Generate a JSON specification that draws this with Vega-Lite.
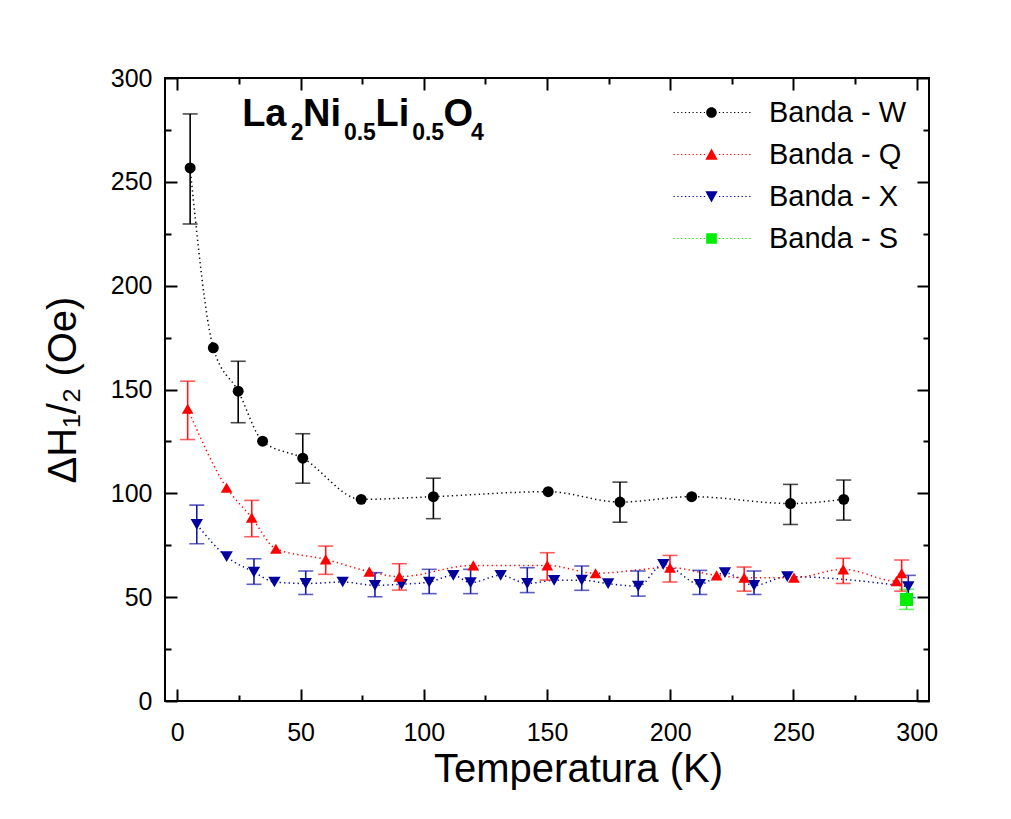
{
  "$schema": "https://vega.github.io/schema/vega-lite/v6.json",
  "width": 764,
  "height": 623,
  "autosize": {"type": "none"},
  "padding": {"left": 165, "top": 78, "right": 82, "bottom": 118},
  "background": "white",
  "config": {
    "view": {"stroke": "black", "strokeWidth": 2},
    "font": "Liberation Sans",
    "axis": {"grid": false, "domain": false, "tickColor": "black", "tickWidth": 2, "labelColor": "black", "titleColor": "black", "labelFont": "Liberation Sans", "titleFont": "Liberation Sans", "labelFlush": false, "labelOverlap": false}
  },
  "datasets": {
    "pts": [
      {"s": "Banda - W", "T": 5.2, "H": 256.7, "lo": 229.7, "hi": 282.7},
      {"s": "Banda - W", "T": 14.6, "H": 170.1},
      {"s": "Banda - W", "T": 24.7, "H": 149.2, "lo": 134.0, "hi": 163.6},
      {"s": "Banda - W", "T": 34.6, "H": 125.1},
      {"s": "Banda - W", "T": 50.9, "H": 116.9, "lo": 104.9, "hi": 128.7},
      {"s": "Banda - W", "T": 74.6, "H": 97.1},
      {"s": "Banda - W", "T": 103.9, "H": 98.4, "lo": 87.8, "hi": 107.3},
      {"s": "Banda - W", "T": 150.5, "H": 100.8},
      {"s": "Banda - W", "T": 179.6, "H": 95.8, "lo": 86.1, "hi": 105.4},
      {"s": "Banda - W", "T": 208.7, "H": 98.4},
      {"s": "Banda - W", "T": 248.8, "H": 95.1, "lo": 85.0, "hi": 104.3},
      {"s": "Banda - W", "T": 270.4, "H": 97.1, "lo": 87.1, "hi": 106.4},
      {"s": "Banda - X", "T": 7.9, "H": 85.0, "lo": 75.7, "hi": 94.3},
      {"s": "Banda - X", "T": 20.0, "H": 69.5},
      {"s": "Banda - X", "T": 31.1, "H": 62.1, "lo": 56.2, "hi": 68.5},
      {"s": "Banda - X", "T": 39.4, "H": 57.3},
      {"s": "Banda - X", "T": 52.1, "H": 56.6, "lo": 51.3, "hi": 62.6},
      {"s": "Banda - X", "T": 67.1, "H": 57.3},
      {"s": "Banda - X", "T": 80.2, "H": 55.7, "lo": 50.2, "hi": 61.8},
      {"s": "Banda - X", "T": 91.0, "H": 56.2},
      {"s": "Banda - X", "T": 102.2, "H": 57.3, "lo": 51.7, "hi": 63.4},
      {"s": "Banda - X", "T": 112.0, "H": 60.5},
      {"s": "Banda - X", "T": 119.0, "H": 57.0, "lo": 51.7, "hi": 63.4},
      {"s": "Banda - X", "T": 131.2, "H": 60.5},
      {"s": "Banda - X", "T": 142.0, "H": 56.6, "lo": 52.2, "hi": 64.2},
      {"s": "Banda - X", "T": 152.9, "H": 58.1},
      {"s": "Banda - X", "T": 164.1, "H": 58.2, "lo": 53.3, "hi": 65.0},
      {"s": "Banda - X", "T": 174.8, "H": 56.5},
      {"s": "Banda - X", "T": 187.0, "H": 55.3, "lo": 50.5, "hi": 62.6},
      {"s": "Banda - X", "T": 197.2, "H": 65.8},
      {"s": "Banda - X", "T": 212.0, "H": 56.2, "lo": 51.3, "hi": 62.9},
      {"s": "Banda - X", "T": 222.2, "H": 61.8},
      {"s": "Banda - X", "T": 234.0, "H": 55.7, "lo": 51.3, "hi": 62.6},
      {"s": "Banda - X", "T": 247.5, "H": 59.9},
      {"s": "Banda - X", "T": 296.6, "H": 55.1, "lo": 49.8, "hi": 60.5},
      {"s": "Banda - Q", "T": 4.2, "H": 140.7, "lo": 125.9, "hi": 154.0},
      {"s": "Banda - Q", "T": 20.0, "H": 102.7},
      {"s": "Banda - Q", "T": 30.2, "H": 88.3, "lo": 79.1, "hi": 96.6},
      {"s": "Banda - Q", "T": 40.0, "H": 73.3},
      {"s": "Banda - Q", "T": 60.2, "H": 68.2, "lo": 61.0, "hi": 74.6},
      {"s": "Banda - Q", "T": 77.9, "H": 62.3},
      {"s": "Banda - Q", "T": 90.1, "H": 59.9, "lo": 53.4, "hi": 66.1},
      {"s": "Banda - Q", "T": 120.1, "H": 65.3},
      {"s": "Banda - Q", "T": 150.1, "H": 65.3, "lo": 58.2, "hi": 71.4},
      {"s": "Banda - Q", "T": 169.7, "H": 61.5},
      {"s": "Banda - Q", "T": 199.9, "H": 64.2, "lo": 57.3, "hi": 70.1},
      {"s": "Banda - Q", "T": 218.8, "H": 60.5},
      {"s": "Banda - Q", "T": 230.0, "H": 59.4, "lo": 52.9, "hi": 64.5},
      {"s": "Banda - Q", "T": 250.2, "H": 59.4},
      {"s": "Banda - Q", "T": 270.2, "H": 63.4, "lo": 56.6, "hi": 68.7},
      {"s": "Banda - Q", "T": 291.8, "H": 57.7},
      {"s": "Banda - Q", "T": 293.9, "H": 61.5, "lo": 52.9, "hi": 67.9},
      {"s": "Banda - S", "T": 295.9, "H": 48.9, "lo": 44.1, "hi": 53.8}
    ],
    "formula": [
      {"seg": "La", "T": 26.3, "H": 276.7, "k": "m"},
      {"seg": "2", "T": 46.0, "H": 270.0, "k": "s"},
      {"seg": "Ni", "T": 51.0, "H": 276.7, "k": "m"},
      {"seg": "0.5", "T": 67.6, "H": 270.0, "k": "s"},
      {"seg": "Li", "T": 80.4, "H": 276.7, "k": "m"},
      {"seg": "0.5", "T": 95.3, "H": 270.0, "k": "s"},
      {"seg": "O", "T": 108.0, "H": 276.7, "k": "m"},
      {"seg": "4", "T": 119.2, "H": 270.0, "k": "s"}
    ]
  },
  "layer": [
    {
      "data": {"name": "pts"},
      "mark": {"type": "line", "interpolate": "monotone", "strokeDash": [1.3, 3.2], "strokeWidth": 1.5},
      "encoding": {
        "x": {"field": "T", "type": "quantitative", "scale": {"domain": [-5, 305], "nice": false, "zero": false},
          "axis": {"orient": "bottom", "values": [0, 50, 100, 150, 200, 250, 300], "tickSize": -12, "labelFontSize": 25, "labelPadding": 31, "title": "Temperatura (K)", "titleFontSize": 40, "titleFontWeight": "normal", "titlePadding": 4, "titleX": 413}},
        "y": {"field": "H", "type": "quantitative", "scale": {"domain": [0, 300], "nice": false},
          "axis": {"orient": "left", "values": [0, 50, 100, 150, 200, 250, 300], "tickSize": -12, "labelFontSize": 25, "labelPadding": 25, "title": "ΔH₁/₂ (Oe)", "titleFontSize": 40, "titleFontWeight": "normal", "titlePadding": 27}},
        "color": {"field": "s", "type": "nominal", "scale": {"domain": ["Banda - W", "Banda - Q", "Banda - X", "Banda - S"], "range": ["#000000", "#ff0000", "#00009c", "#00ee00"]}, "legend": null}
      }
    },
    {
      "data": {"name": "pts"},
      "transform": [{"filter": "isValid(datum.lo)"}],
      "mark": {"type": "errorbar", "thickness": 1.6, "ticks": {"size": 15, "thickness": 1.6}},
      "encoding": {
        "x": {"field": "T", "type": "quantitative", "axis": null},
        "y": {"field": "lo", "type": "quantitative", "axis": null},
        "y2": {"field": "hi"},
        "color": {"field": "s", "type": "nominal", "scale": {"domain": ["Banda - W", "Banda - Q", "Banda - X", "Banda - S"], "range": ["#000000", "#ff1a1a", "#1a1aaa", "#22ee22"]}, "legend": null}
      }
    },
    {
      "data": {"name": "pts"},
      "mark": {"type": "point", "filled": true, "opacity": 1, "strokeWidth": 0},
      "encoding": {
        "x": {"field": "T", "type": "quantitative", "axis": {"orient": "bottom", "values": [25, 75, 125, 175, 225, 275], "tickSize": -6, "labels": false, "title": null}},
        "y": {"field": "H", "type": "quantitative", "axis": {"orient": "left", "values": [25, 75, 125, 175, 225, 275], "tickSize": -6, "labels": false, "title": null}},
        "color": {"field": "s", "type": "nominal", "scale": {"domain": ["Banda - W", "Banda - Q", "Banda - X", "Banda - S"], "range": ["#000000", "#ff0000", "#00009c", "#00ee00"]}, "legend": null},
        "shape": {"field": "s", "type": "nominal", "scale": {"domain": ["Banda - W", "Banda - Q", "Banda - X", "Banda - S"], "range": ["circle", "triangle-up", "triangle-down", "square"]}, "legend": null},
        "size": {"field": "s", "type": "nominal", "scale": {"domain": ["Banda - W", "Banda - Q", "Banda - X", "Banda - S"], "range": [120, 170, 170, 105]}, "legend": null}
      }
    },
    {
      "data": {"name": "pts"},
      "transform": [{"filter": "false"}],
      "mark": {"type": "point", "filled": true, "opacity": 1, "strokeWidth": 0},
      "encoding": {
        "x": {"field": "T", "type": "quantitative", "axis": null},
        "y": {"field": "H", "type": "quantitative", "axis": null},
        "color": {"field": "s", "type": "nominal", "scale": {"domain": ["Banda - W", "Banda - Q", "Banda - X", "Banda - S"], "range": ["#000000", "#ff0000", "#00009c", "#00ee00"]},
          "legend": {"title": null, "orient": "none", "legendX": 532, "legendY": 20, "symbolSize": 784, "symbolStrokeWidth": 0, "symbolOpacity": 1, "labelFontSize": 29, "labelFont": "Liberation Sans", "labelColor": "black", "labelOffset": 43, "rowPadding": 12, "padding": 0}},
        "shape": {"field": "s", "type": "nominal", "scale": {"domain": ["Banda - W", "Banda - Q", "Banda - X", "Banda - S"], "range": [
          "M-2.71,-0.04h0.09v0.08h-0.09zM-2.44,-0.04h0.09v0.08h-0.09zM-2.17,-0.04h0.09v0.08h-0.09zM-1.9,-0.04h0.09v0.08h-0.09zM-1.63,-0.04h0.09v0.08h-0.09zM-1.36,-0.04h0.09v0.08h-0.09zM-1.09,-0.04h0.09v0.08h-0.09zM-0.82,-0.04h0.09v0.08h-0.09zM-0.55,-0.04h0.09v0.08h-0.09zM0.53,-0.04h0.09v0.08h-0.09zM0.8,-0.04h0.09v0.08h-0.09zM1.07,-0.04h0.09v0.08h-0.09zM1.34,-0.04h0.09v0.08h-0.09zM1.61,-0.04h0.09v0.08h-0.09zM1.88,-0.04h0.09v0.08h-0.09zM2.15,-0.04h0.09v0.08h-0.09zM2.42,-0.04h0.09v0.08h-0.09zM2.69,-0.04h0.09v0.08h-0.09zM0.38,0A0.38,0.38 0 1,1 -0.38,0A0.38,0.38 0 1,1 0.38,0z",
          "M-2.71,-0.04h0.09v0.08h-0.09zM-2.44,-0.04h0.09v0.08h-0.09zM-2.17,-0.04h0.09v0.08h-0.09zM-1.9,-0.04h0.09v0.08h-0.09zM-1.63,-0.04h0.09v0.08h-0.09zM-1.36,-0.04h0.09v0.08h-0.09zM-1.09,-0.04h0.09v0.08h-0.09zM-0.82,-0.04h0.09v0.08h-0.09zM-0.55,-0.04h0.09v0.08h-0.09zM0.53,-0.04h0.09v0.08h-0.09zM0.8,-0.04h0.09v0.08h-0.09zM1.07,-0.04h0.09v0.08h-0.09zM1.34,-0.04h0.09v0.08h-0.09zM1.61,-0.04h0.09v0.08h-0.09zM1.88,-0.04h0.09v0.08h-0.09zM2.15,-0.04h0.09v0.08h-0.09zM2.42,-0.04h0.09v0.08h-0.09zM2.69,-0.04h0.09v0.08h-0.09zM0,-0.42L0.44,0.37L-0.44,0.37z",
          "M-2.71,-0.04h0.09v0.08h-0.09zM-2.44,-0.04h0.09v0.08h-0.09zM-2.17,-0.04h0.09v0.08h-0.09zM-1.9,-0.04h0.09v0.08h-0.09zM-1.63,-0.04h0.09v0.08h-0.09zM-1.36,-0.04h0.09v0.08h-0.09zM-1.09,-0.04h0.09v0.08h-0.09zM-0.82,-0.04h0.09v0.08h-0.09zM-0.55,-0.04h0.09v0.08h-0.09zM0.53,-0.04h0.09v0.08h-0.09zM0.8,-0.04h0.09v0.08h-0.09zM1.07,-0.04h0.09v0.08h-0.09zM1.34,-0.04h0.09v0.08h-0.09zM1.61,-0.04h0.09v0.08h-0.09zM1.88,-0.04h0.09v0.08h-0.09zM2.15,-0.04h0.09v0.08h-0.09zM2.42,-0.04h0.09v0.08h-0.09zM2.69,-0.04h0.09v0.08h-0.09zM-0.44,-0.37L0.44,-0.37L0,0.42z",
          "M-2.71,-0.04h0.09v0.08h-0.09zM-2.44,-0.04h0.09v0.08h-0.09zM-2.17,-0.04h0.09v0.08h-0.09zM-1.9,-0.04h0.09v0.08h-0.09zM-1.63,-0.04h0.09v0.08h-0.09zM-1.36,-0.04h0.09v0.08h-0.09zM-1.09,-0.04h0.09v0.08h-0.09zM-0.82,-0.04h0.09v0.08h-0.09zM-0.55,-0.04h0.09v0.08h-0.09zM0.53,-0.04h0.09v0.08h-0.09zM0.8,-0.04h0.09v0.08h-0.09zM1.07,-0.04h0.09v0.08h-0.09zM1.34,-0.04h0.09v0.08h-0.09zM1.61,-0.04h0.09v0.08h-0.09zM1.88,-0.04h0.09v0.08h-0.09zM2.15,-0.04h0.09v0.08h-0.09zM2.42,-0.04h0.09v0.08h-0.09zM2.69,-0.04h0.09v0.08h-0.09zM-0.38,-0.38h0.76v0.76h-0.76z"
        ]}}
      }
    },
    {
      "data": {"name": "formula"},
      "transform": [{"filter": "datum.k == 'm'"}],
      "mark": {"type": "text", "font": "Liberation Sans", "fontWeight": "bold", "fontSize": 38, "align": "left", "baseline": "alphabetic", "color": "black"},
      "encoding": {
        "x": {"field": "T", "type": "quantitative", "axis": {"orient": "top", "values": [0, 50, 100, 150, 200, 250, 300], "tickSize": -12, "labels": false, "title": null}},
        "y": {"field": "H", "type": "quantitative", "axis": {"orient": "right", "values": [0, 50, 100, 150, 200, 250, 300], "tickSize": -12, "labels": false, "title": null}},
        "text": {"field": "seg"}
      }
    },
    {
      "data": {"name": "formula"},
      "transform": [{"filter": "datum.k == 's'"}],
      "mark": {"type": "text", "font": "Liberation Sans", "fontWeight": "bold", "fontSize": 23, "align": "left", "baseline": "alphabetic", "color": "black"},
      "encoding": {
        "x": {"field": "T", "type": "quantitative", "axis": {"orient": "top", "values": [25, 75, 125, 175, 225, 275], "tickSize": -6, "labels": false, "title": null}},
        "y": {"field": "H", "type": "quantitative", "axis": {"orient": "right", "values": [25, 75, 125, 175, 225, 275], "tickSize": -6, "labels": false, "title": null}},
        "text": {"field": "seg"}
      }
    }
  ],
  "resolve": {
    "axis": {"x": "independent", "y": "independent"},
    "scale": {"color": "independent", "shape": "independent", "size": "independent"}
  }
}
